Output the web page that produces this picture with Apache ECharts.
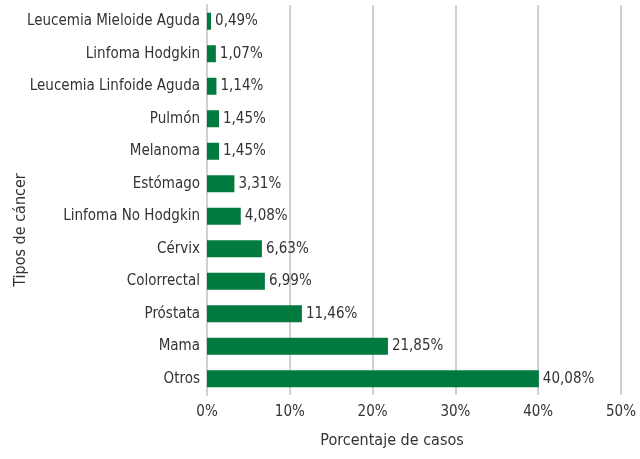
<!DOCTYPE html>
<html>
<head>
<meta charset="utf-8">
<script src="https://cdn.jsdelivr.net/npm/echarts@6/dist/echarts.min.js"></script>
<style>
  html, body { margin: 0; padding: 0; background: #fff; }
  #chart { width: 640px; height: 459px; }
</style>
</head>
<body>
<div id="chart"></div>
<script>
// categories from bottom to top
var categories = ['Otros', 'Mama', 'Próstata', 'Colorrectal', 'Cérvix', 'Linfoma No Hodgkin',
  'Estómago', 'Melanoma', 'Pulmón', 'Leucemia Linfoide Aguda', 'Linfoma Hodgkin', 'Leucemia Mieloide Aguda'];
var porcentajes = [40.08, 21.85, 11.46, 6.99, 6.63, 4.08, 3.31, 1.45, 1.45, 1.14, 1.07, 0.49];
var xTicks = [0, 10, 20, 30, 40, 50];

var font = '"Liberation Sans Narrow", "DejaVu Sans Condensed", sans-serif';
var textColor = '#333';

var chart = echarts.init(document.getElementById('chart'));

var option = {
  animation: false,
  textStyle: { fontFamily: font },
  grid: { left: 207, right: 19, top: 5, bottom: 64, outerBoundsMode: 'none', containLabel: false },
  xAxis: {
    type: 'value',
    min: xTicks[0],
    max: xTicks[xTicks.length - 1],
    interval: 10,
    name: 'Porcentaje de casos',
    nameLocation: 'middle',
    nameGap: 38,
    nameTextStyle: { fontFamily: font, fontSize: 16, color: textColor, padding: [0, 44, 0, 0] },
    axisLine: { show: false },
    axisTick: { show: false },
    axisLabel: { fontFamily: font, fontSize: 15, color: textColor, margin: 10, formatter: '{value}%' },
    splitLine: { lineStyle: { color: '#d0d0d0', width: 2 } }
  },
  yAxis: {
    type: 'category',
    data: categories,
    name: 'Tipos de cáncer',
    nameLocation: 'middle',
    nameGap: 178,
    nameMoveOverlap: false,
    nameRotate: 90,
    nameTextStyle: { fontFamily: font, fontSize: 16, color: textColor, padding: [0, 60, 0, 0] },
    axisLine: { show: true, lineStyle: { color: '#d0d0d0', width: 2 } },
    axisTick: { show: false },
    axisLabel: { fontFamily: font, fontSize: 15, color: textColor, margin: 7 }
  },
  series: [{
    type: 'bar',
    data: porcentajes,
    barWidth: 17,
    itemStyle: { color: '#007a3f' },
    label: {
      show: true,
      position: 'right',
      distance: 4,
      fontFamily: font,
      fontSize: 15,
      color: textColor,
      formatter: function (p) { return p.value.toFixed(2).replace('.', ',') + '%'; }
    }
  }]
};

chart.setOption(option);
</script>
</body>
</html>
